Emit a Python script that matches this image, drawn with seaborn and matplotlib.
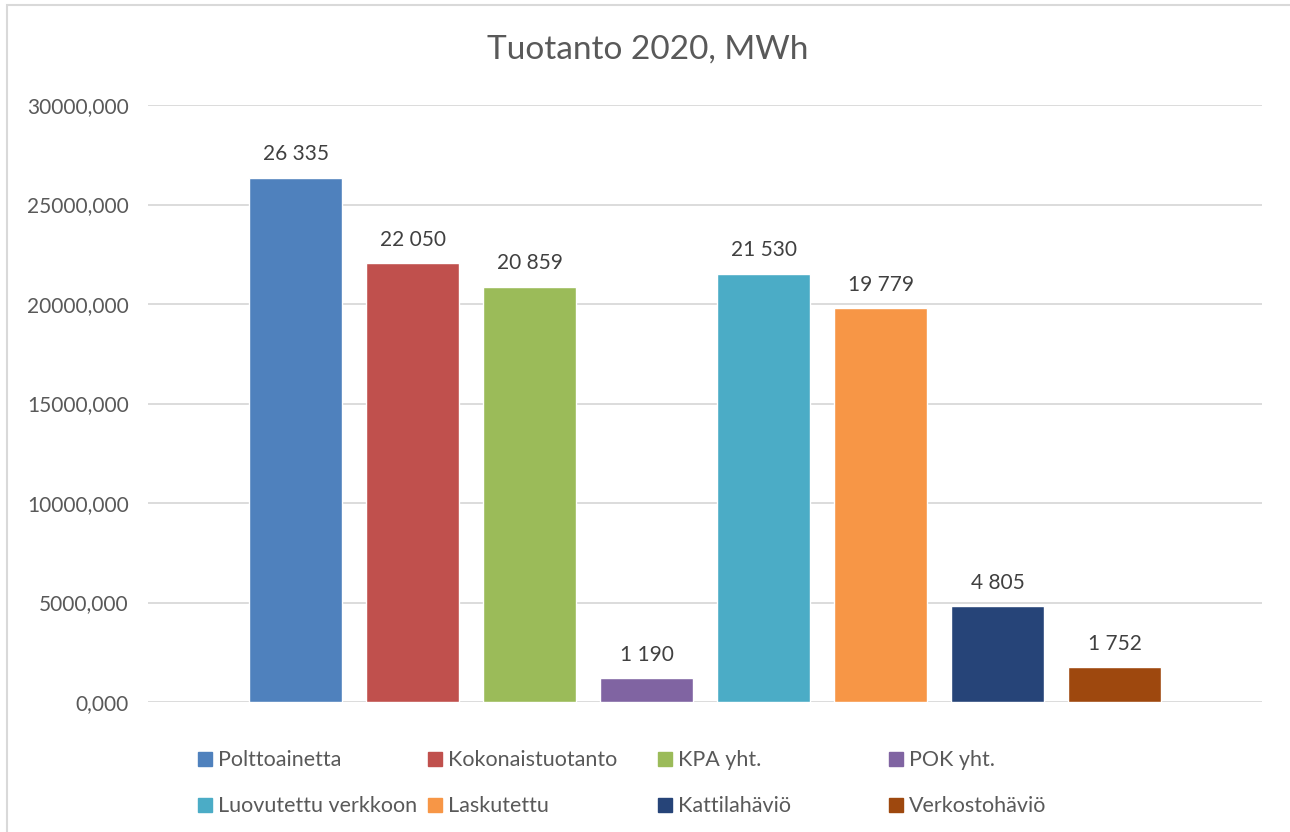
import matplotlib
matplotlib.use("Agg")
import matplotlib.pyplot as plt
from matplotlib.patches import Rectangle, Patch
import seaborn as sns
import pandas as pd

# --- data ---
series = ["Polttoainetta", "Kokonaistuotanto", "KPA yht.", "POK yht.",
          "Luovutettu verkkoon", "Laskutettu", "Kattilahäviö", "Verkostohäviö"]
values = [26335, 22050, 20859, 1190, 21530, 19779, 4805, 1752]
colors = ["#4F81BD", "#C0504D", "#9BBB59", "#8064A2",
          "#4BACC6", "#F79646", "#264478", "#9E480E"]
yticks = [0, 5000, 10000, 15000, 20000, 25000, 30000]

TEXT = "#595959"
GRID = "#D9D9D9"

sns.set_theme(style="white")
plt.rcParams["font.family"] = ["Lato", "DejaVu Sans"]

df = pd.DataFrame({"sarja": series, "MWh": values})

fig = plt.figure(figsize=(12.9, 8.32), dpi=100)
ax = fig.add_axes([148 / 1290, 1 - 702 / 832, (1262 - 148) / 1290, (702 - 105) / 832])

sns.barplot(data=df, x="sarja", y="MWh", hue="sarja", palette=colors,
            order=series, hue_order=series, width=0.795, dodge=False,
            legend=False, ax=ax, saturation=1)

ax.set_xlim(-1.265, 8.26)
ax.set_ylim(0, 30000)
ax.set_yticks(yticks)
ax.set_yticklabels([f"{v:.3f}".replace(".", ",") for v in yticks],
                   fontsize=15, color=TEXT)
ax.tick_params(axis="y", length=0, pad=14)
ax.set_xticks([])
ax.set_xlabel("")
ax.set_ylabel("")
ax.yaxis.grid(True, color=GRID, lw=1.3)
ax.set_axisbelow(True)
for s in ax.spines.values():
    s.set_visible(False)

# data labels
for i, v in enumerate(values):
    ax.annotate(f"{v:,}".replace(",", " "), (i, v), xytext=(0, 17),
                textcoords="offset points", ha="center", va="center",
                fontsize=15, color="#404040")

fig.text(648 / 1290, 1 - 50 / 832, "Tuotanto 2020, MWh", ha="center", va="center",
         fontsize=24, color=TEXT)

# legend: 4 columns of 2 rows, equal column widths like Excel
col_x = [192, 422, 652, 883]
for j in range(4):
    handles = [Patch(color=colors[j], label=series[j]),
               Patch(color=colors[j + 4], label=series[j + 4])]
    leg = fig.legend(handles=handles, loc="upper left",
                     bbox_to_anchor=(col_x[j] / 1290, 1 - 744 / 832),
                     frameon=False, fontsize=15.5, handlelength=0.62,
                     handleheight=0.62, handletextpad=0.3, labelspacing=1.2,
                     borderaxespad=0, borderpad=0.3)
    for t in leg.get_texts():
        t.set_color(TEXT)

# chart border
fig.patches.append(Rectangle((7 / 1290, -0.5), 2, 0.5 + 1 - 5 / 832,
                             transform=fig.transFigure, fill=False,
                             edgecolor=GRID, lw=1.5))

fig.savefig("out.png", dpi=100)
